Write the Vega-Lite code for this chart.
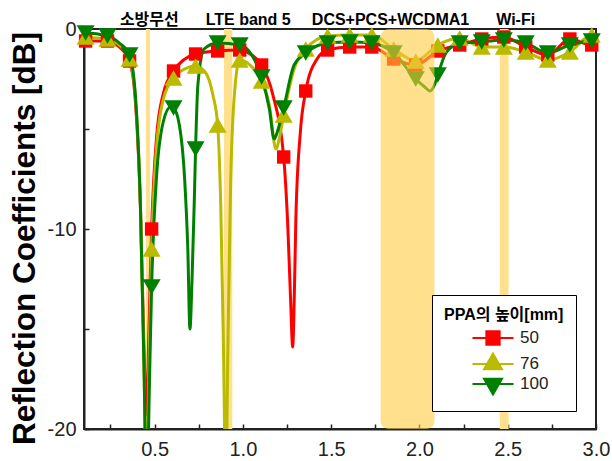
{
  "$schema": "https://vega.github.io/schema/vega-lite/v6.json",
  "width": 512,
  "height": 400,
  "autosize": {"type": "none"},
  "padding": {"left": 84, "top": 29, "right": 16, "bottom": 32},
  "config": {
    "view": {"stroke": "#222", "strokeWidth": 2},
    "font": "Liberation Sans",
    "axis": {"domainColor": "#222", "domainWidth": 2, "tickColor": "#222", "tickWidth": 1.5, "grid": false, "labelFont": "Liberation Sans", "labelFontSize": 20, "labelColor": "#222", "labelFlush": false, "labelOverlap": false}
  },
  "datasets": {
    "curve": [
      {"s": "50", "f": 0.1, "db": -0.6}, {"s": "50", "f": 0.109, "db": -0.6}, {"s": "50", "f": 0.233, "db": -0.6}, {"s": "50", "f": 0.3, "db": -0.9},
      {"s": "50", "f": 0.358, "db": -1.6}, {"s": "50", "f": 0.39, "db": -3.5}, {"s": "50", "f": 0.42, "db": -9}, {"s": "50", "f": 0.44, "db": -16},
      {"s": "50", "f": 0.455, "db": -19.3}, {"s": "50", "f": 0.468, "db": -15}, {"s": "50", "f": 0.483, "db": -10.0}, {"s": "50", "f": 0.51, "db": -5.5},
      {"s": "50", "f": 0.55, "db": -3.2}, {"s": "50", "f": 0.607, "db": -2.1}, {"s": "50", "f": 0.732, "db": -1.25}, {"s": "50", "f": 0.857, "db": -1.1},
      {"s": "50", "f": 0.982, "db": -1.05}, {"s": "50", "f": 1.05, "db": -1.3}, {"s": "50", "f": 1.106, "db": -1.8}, {"s": "50", "f": 1.17, "db": -3.3},
      {"s": "50", "f": 1.231, "db": -6.4}, {"s": "50", "f": 1.255, "db": -10}, {"s": "50", "f": 1.27, "db": -13.5}, {"s": "50", "f": 1.282, "db": -15.9},
      {"s": "50", "f": 1.292, "db": -13}, {"s": "50", "f": 1.3, "db": -9.5}, {"s": "50", "f": 1.325, "db": -5.2}, {"s": "50", "f": 1.356, "db": -3.1},
      {"s": "50", "f": 1.42, "db": -1.5}, {"s": "50", "f": 1.48, "db": -1.05}, {"s": "50", "f": 1.605, "db": -0.9}, {"s": "50", "f": 1.73, "db": -0.9},
      {"s": "50", "f": 1.854, "db": -1.5}, {"s": "50", "f": 1.979, "db": -1.8}, {"s": "50", "f": 2.104, "db": -1.1}, {"s": "50", "f": 2.228, "db": -0.8},
      {"s": "50", "f": 2.353, "db": -0.5}, {"s": "50", "f": 2.478, "db": -0.4}, {"s": "50", "f": 2.602, "db": -0.9}, {"s": "50", "f": 2.727, "db": -1.3},
      {"s": "50", "f": 2.852, "db": -0.5}, {"s": "50", "f": 2.976, "db": -0.8}, {"s": "50", "f": 3.0, "db": -0.8},

      {"s": "76", "f": 0.1, "db": -0.3}, {"s": "76", "f": 0.109, "db": -0.4}, {"s": "76", "f": 0.233, "db": -0.5}, {"s": "76", "f": 0.3, "db": -0.8},
      {"s": "76", "f": 0.358, "db": -1.5}, {"s": "76", "f": 0.39, "db": -3.3}, {"s": "76", "f": 0.42, "db": -9}, {"s": "76", "f": 0.44, "db": -17},
      {"s": "76", "f": 0.455, "db": -23}, {"s": "76", "f": 0.47, "db": -16}, {"s": "76", "f": 0.483, "db": -11.0}, {"s": "76", "f": 0.51, "db": -6},
      {"s": "76", "f": 0.55, "db": -3.5}, {"s": "76", "f": 0.607, "db": -2.45}, {"s": "76", "f": 0.67, "db": -2.0}, {"s": "76", "f": 0.732, "db": -1.85},
      {"s": "76", "f": 0.79, "db": -2.2}, {"s": "76", "f": 0.83, "db": -3.3}, {"s": "76", "f": 0.857, "db": -4.8}, {"s": "76", "f": 0.875, "db": -9},
      {"s": "76", "f": 0.89, "db": -16}, {"s": "76", "f": 0.903, "db": -23}, {"s": "76", "f": 0.915, "db": -16}, {"s": "76", "f": 0.93, "db": -8},
      {"s": "76", "f": 0.95, "db": -3.5}, {"s": "76", "f": 0.982, "db": -1.55}, {"s": "76", "f": 1.04, "db": -1.8}, {"s": "76", "f": 1.106, "db": -2.6},
      {"s": "76", "f": 1.15, "db": -3.8}, {"s": "76", "f": 1.187, "db": -6.0}, {"s": "76", "f": 1.21, "db": -5.3}, {"s": "76", "f": 1.231, "db": -4.3},
      {"s": "76", "f": 1.29, "db": -2.0}, {"s": "76", "f": 1.356, "db": -1.0}, {"s": "76", "f": 1.48, "db": -0.35}, {"s": "76", "f": 1.605, "db": -0.3},
      {"s": "76", "f": 1.73, "db": -0.3}, {"s": "76", "f": 1.854, "db": -1.0}, {"s": "76", "f": 1.979, "db": -1.6}, {"s": "76", "f": 2.104, "db": -0.8},
      {"s": "76", "f": 2.228, "db": -0.45}, {"s": "76", "f": 2.353, "db": -0.9}, {"s": "76", "f": 2.478, "db": -0.9}, {"s": "76", "f": 2.602, "db": -1.15},
      {"s": "76", "f": 2.727, "db": -1.55}, {"s": "76", "f": 2.852, "db": -1.15}, {"s": "76", "f": 2.976, "db": -0.3}, {"s": "76", "f": 3.0, "db": -0.3},

      {"s": "100", "f": 0.1, "db": -0.2}, {"s": "100", "f": 0.109, "db": -0.2}, {"s": "100", "f": 0.233, "db": -0.35}, {"s": "100", "f": 0.3, "db": -0.7},
      {"s": "100", "f": 0.358, "db": -1.3}, {"s": "100", "f": 0.39, "db": -3.2}, {"s": "100", "f": 0.42, "db": -9}, {"s": "100", "f": 0.44, "db": -17},
      {"s": "100", "f": 0.455, "db": -24}, {"s": "100", "f": 0.47, "db": -18}, {"s": "100", "f": 0.483, "db": -12.9}, {"s": "100", "f": 0.51, "db": -7.5},
      {"s": "100", "f": 0.55, "db": -4.6}, {"s": "100", "f": 0.59, "db": -3.9}, {"s": "100", "f": 0.607, "db": -3.95}, {"s": "100", "f": 0.64, "db": -4.8},
      {"s": "100", "f": 0.67, "db": -7.5}, {"s": "100", "f": 0.688, "db": -11}, {"s": "100", "f": 0.7, "db": -15}, {"s": "100", "f": 0.712, "db": -12.5},
      {"s": "100", "f": 0.725, "db": -8.5}, {"s": "100", "f": 0.732, "db": -6.0}, {"s": "100", "f": 0.745, "db": -2.8}, {"s": "100", "f": 0.78, "db": -1.0},
      {"s": "100", "f": 0.857, "db": -0.7}, {"s": "100", "f": 0.982, "db": -0.8}, {"s": "100", "f": 1.05, "db": -1.3}, {"s": "100", "f": 1.106, "db": -2.4},
      {"s": "100", "f": 1.15, "db": -4.0}, {"s": "100", "f": 1.177, "db": -5.5}, {"s": "100", "f": 1.2, "db": -5.0}, {"s": "100", "f": 1.231, "db": -3.95},
      {"s": "100", "f": 1.29, "db": -1.8}, {"s": "100", "f": 1.356, "db": -1.2}, {"s": "100", "f": 1.48, "db": -0.7}, {"s": "100", "f": 1.605, "db": -0.65},
      {"s": "100", "f": 1.73, "db": -0.7}, {"s": "100", "f": 1.854, "db": -1.2}, {"s": "100", "f": 1.979, "db": -2.5}, {"s": "100", "f": 2.03, "db": -2.9},
      {"s": "100", "f": 2.06, "db": -3.1}, {"s": "100", "f": 2.085, "db": -2.8}, {"s": "100", "f": 2.104, "db": -2.3}, {"s": "100", "f": 2.15, "db": -1.2},
      {"s": "100", "f": 2.228, "db": -0.7}, {"s": "100", "f": 2.353, "db": -0.65}, {"s": "100", "f": 2.478, "db": -0.55}, {"s": "100", "f": 2.602, "db": -0.7},
      {"s": "100", "f": 2.727, "db": -1.2}, {"s": "100", "f": 2.852, "db": -0.8}, {"s": "100", "f": 2.976, "db": -0.6}, {"s": "100", "f": 3.0, "db": -0.6}
    ],
    "markers": [
      {"s": "50", "f": 0.109, "db": -0.6}, {"s": "50", "f": 0.233, "db": -0.6}, {"s": "50", "f": 0.358, "db": -1.6}, {"s": "50", "f": 0.483, "db": -10.0},
      {"s": "50", "f": 0.607, "db": -2.1}, {"s": "50", "f": 0.732, "db": -1.25}, {"s": "50", "f": 0.857, "db": -1.1}, {"s": "50", "f": 0.982, "db": -1.05},
      {"s": "50", "f": 1.106, "db": -1.8}, {"s": "50", "f": 1.231, "db": -6.4}, {"s": "50", "f": 1.356, "db": -3.1}, {"s": "50", "f": 1.48, "db": -1.05},
      {"s": "50", "f": 1.605, "db": -0.9}, {"s": "50", "f": 1.73, "db": -0.9}, {"s": "50", "f": 1.854, "db": -1.5}, {"s": "50", "f": 1.979, "db": -1.8},
      {"s": "50", "f": 2.104, "db": -1.1}, {"s": "50", "f": 2.228, "db": -0.8}, {"s": "50", "f": 2.353, "db": -0.5}, {"s": "50", "f": 2.478, "db": -0.4},
      {"s": "50", "f": 2.602, "db": -0.9}, {"s": "50", "f": 2.727, "db": -1.3}, {"s": "50", "f": 2.852, "db": -0.5}, {"s": "50", "f": 2.976, "db": -0.8},
      {"s": "76", "f": 0.109, "db": -0.4}, {"s": "76", "f": 0.233, "db": -0.5}, {"s": "76", "f": 0.358, "db": -1.5}, {"s": "76", "f": 0.483, "db": -11.0},
      {"s": "76", "f": 0.607, "db": -2.45}, {"s": "76", "f": 0.732, "db": -1.85}, {"s": "76", "f": 0.857, "db": -4.8}, {"s": "76", "f": 0.982, "db": -1.55},
      {"s": "76", "f": 1.106, "db": -2.6}, {"s": "76", "f": 1.231, "db": -4.3}, {"s": "76", "f": 1.356, "db": -1.0}, {"s": "76", "f": 1.48, "db": -0.35},
      {"s": "76", "f": 1.605, "db": -0.3}, {"s": "76", "f": 1.73, "db": -0.3}, {"s": "76", "f": 1.854, "db": -1.0}, {"s": "76", "f": 1.979, "db": -1.6},
      {"s": "76", "f": 2.104, "db": -0.8}, {"s": "76", "f": 2.228, "db": -0.45}, {"s": "76", "f": 2.353, "db": -0.9}, {"s": "76", "f": 2.478, "db": -0.9},
      {"s": "76", "f": 2.602, "db": -1.15}, {"s": "76", "f": 2.727, "db": -1.55}, {"s": "76", "f": 2.852, "db": -1.15}, {"s": "76", "f": 2.976, "db": -0.3},
      {"s": "100", "f": 0.109, "db": -0.2}, {"s": "100", "f": 0.233, "db": -0.35}, {"s": "100", "f": 0.358, "db": -1.3}, {"s": "100", "f": 0.483, "db": -12.9},
      {"s": "100", "f": 0.607, "db": -3.95}, {"s": "100", "f": 0.732, "db": -6.0}, {"s": "100", "f": 0.857, "db": -0.7}, {"s": "100", "f": 0.982, "db": -0.8},
      {"s": "100", "f": 1.106, "db": -2.4}, {"s": "100", "f": 1.231, "db": -3.95}, {"s": "100", "f": 1.356, "db": -1.2}, {"s": "100", "f": 1.48, "db": -0.7},
      {"s": "100", "f": 1.605, "db": -0.65}, {"s": "100", "f": 1.73, "db": -0.7}, {"s": "100", "f": 1.854, "db": -1.2}, {"s": "100", "f": 1.979, "db": -2.5},
      {"s": "100", "f": 2.104, "db": -2.3}, {"s": "100", "f": 2.228, "db": -0.7}, {"s": "100", "f": 2.353, "db": -0.65}, {"s": "100", "f": 2.478, "db": -0.55},
      {"s": "100", "f": 2.602, "db": -0.7}, {"s": "100", "f": 2.727, "db": -1.2}, {"s": "100", "f": 2.852, "db": -0.8}, {"s": "100", "f": 2.976, "db": -0.6}
    ],
    "bands": [
      {"band": "소방무선", "f1": 0.451, "f2": 0.474, "fc": 0.47},
      {"band": "LTE band 5", "f1": 0.893, "f2": 0.94, "fc": 1.03},
      {"band": "DCS+PCS+WCDMA1", "f1": 1.78, "f2": 2.085, "fc": 1.836},
      {"band": "Wi-Fi", "f1": 2.455, "f2": 2.505, "fc": 2.545}
    ]
  },
  "layer": [
    {
      "data": {"name": "bands"},
      "transform": [{"filter": "datum.band !== 'DCS+PCS+WCDMA1'"}],
      "mark": {"type": "rect", "color": "#FFE08C"},
      "encoding": {
        "x": {"field": "f1", "type": "quantitative", "scale": {"domain": [0.1, 3.0], "nice": false, "zero": false},
              "axis": {"title": null, "values": [0.25, 0.5, 0.75, 1.0, 1.25, 1.5, 1.75, 2.0, 2.25, 2.5, 2.75, 3.0],
                       "labelExpr": "datum.value % 0.5 === 0 ? format(datum.value, '.1f') : ''",
                       "tickSize": -5, "labelPadding": 15}},
        "x2": {"field": "f2"},
        "y": {"datum": 0, "type": "quantitative", "scale": {"domain": [-20, 0], "nice": false},
              "axis": {"title": "Reflection Coefficients [dB]", "titleFontSize": 31.5, "titleFontWeight": "bold", "titleColor": "black",
                       "titleFont": "Liberation Sans", "titlePadding": 6, "titleY": 209,
                       "values": [-20, -15, -10, -5, 0],
                       "labelExpr": "datum.value % 10 === 0 ? '' + datum.value : ''",
                       "tickSize": -5, "labelPadding": 13}},
        "y2": {"datum": -20}
      }
    },
    {
      "data": {"name": "curve"},
      "mark": {"type": "line", "interpolate": "monotone", "strokeWidth": 3, "clip": true},
      "encoding": {
        "x": {"field": "f", "type": "quantitative"},
        "y": {"field": "db", "type": "quantitative"},
        "detail": {"field": "s", "type": "nominal"},
        "stroke": {"condition": [{"test": "datum.s === '50'", "value": "#FF0000"}, {"test": "datum.s === '76'", "value": "#BABA00"}], "value": "#008000"}
      }
    },
    {
      "data": {"name": "markers"},
      "mark": {"type": "point", "filled": true, "opacity": 1},
      "encoding": {
        "x": {"field": "f", "type": "quantitative"},
        "y": {"field": "db", "type": "quantitative"},
        "color": {"condition": [{"test": "datum.s === '50'", "value": "#FF0000"}, {"test": "datum.s === '76'", "value": "#BABA00"}], "value": "#008000"},
        "shape": {"condition": [{"test": "datum.s === '50'", "value": "square"}, {"test": "datum.s === '76'", "value": "triangle-up"}], "value": "triangle-down"},
        "size": {"condition": {"test": "datum.s === '50'", "value": 180}, "value": 324}
      }
    },
    {
      "data": {"name": "markers"},
      "mark": {"type": "point", "filled": true, "opacity": 0, "strokeWidth": 2},
      "encoding": {
        "x": {"field": "f", "type": "quantitative"},
        "y": {"field": "db", "type": "quantitative"},
        "fill": {"field": "s", "type": "nominal", "scale": {"domain": ["50", "76", "100"], "range": ["#FF0000", "#BABA00", "#008000"]},
          "legend": {
            "orient": "none", "legendX": 348, "legendY": 266,
            "title": "PPA의 높이[mm]", "titleFontSize": 16, "titleFontWeight": "bold", "titleFont": "Liberation Sans, Noto Sans CJK KR", "titleColor": "black",
            "padding": 12, "symbolSize": 324, "labelFontSize": 17, "labelColor": "#222", "labelOffset": 17, "rowPadding": 0, "symbolOffset": 39,
            "symbolOpacity": 1, "symbolStrokeWidth": 2,
            "fillColor": "white", "strokeColor": "black",
            "encode": {"legend": {"strokeWidth": {"value": 2}}}
          }},
        "stroke": {"field": "s", "type": "nominal", "scale": {"domain": ["50", "76", "100"], "range": ["#FF0000", "#BABA00", "#008000"]}, "title": "PPA의 높이[mm]"},
        "shape": {"field": "s", "type": "nominal", "title": "PPA의 높이[mm]",
          "scale": {"domain": ["50", "76", "100"], "range": [
            "M-2.28,0H2.28M-0.74,-0.74H0.74V0.74H-0.74Z",
            "M-2.28,0H2.28M0,-1.155L1,0.577H-1Z",
            "M-2.28,0H2.28M0,1.155L1,-0.577H-1Z"]}},
        "size": {"value": 324}
      }
    },
    {
      "data": {"name": "bands"},
      "transform": [{"filter": "datum.band === 'DCS+PCS+WCDMA1'"}],
      "mark": {"type": "rect", "color": "#FFCB3F", "opacity": 0.6, "cornerRadius": 8},
      "encoding": {
        "x": {"field": "f1", "type": "quantitative"},
        "x2": {"field": "f2"},
        "y": {"datum": 0, "type": "quantitative"},
        "y2": {"datum": -20}
      }
    },
    {
      "data": {"name": "bands"},
      "mark": {"type": "text", "font": "Liberation Sans, Noto Sans CJK KR", "fontSize": 16, "fontWeight": "bold", "color": "black", "baseline": "middle", "align": "center"},
      "encoding": {
        "x": {"field": "fc", "type": "quantitative"},
        "y": {"datum": 0.45, "type": "quantitative"},
        "text": {"field": "band"}
      }
    }
  ]
}
